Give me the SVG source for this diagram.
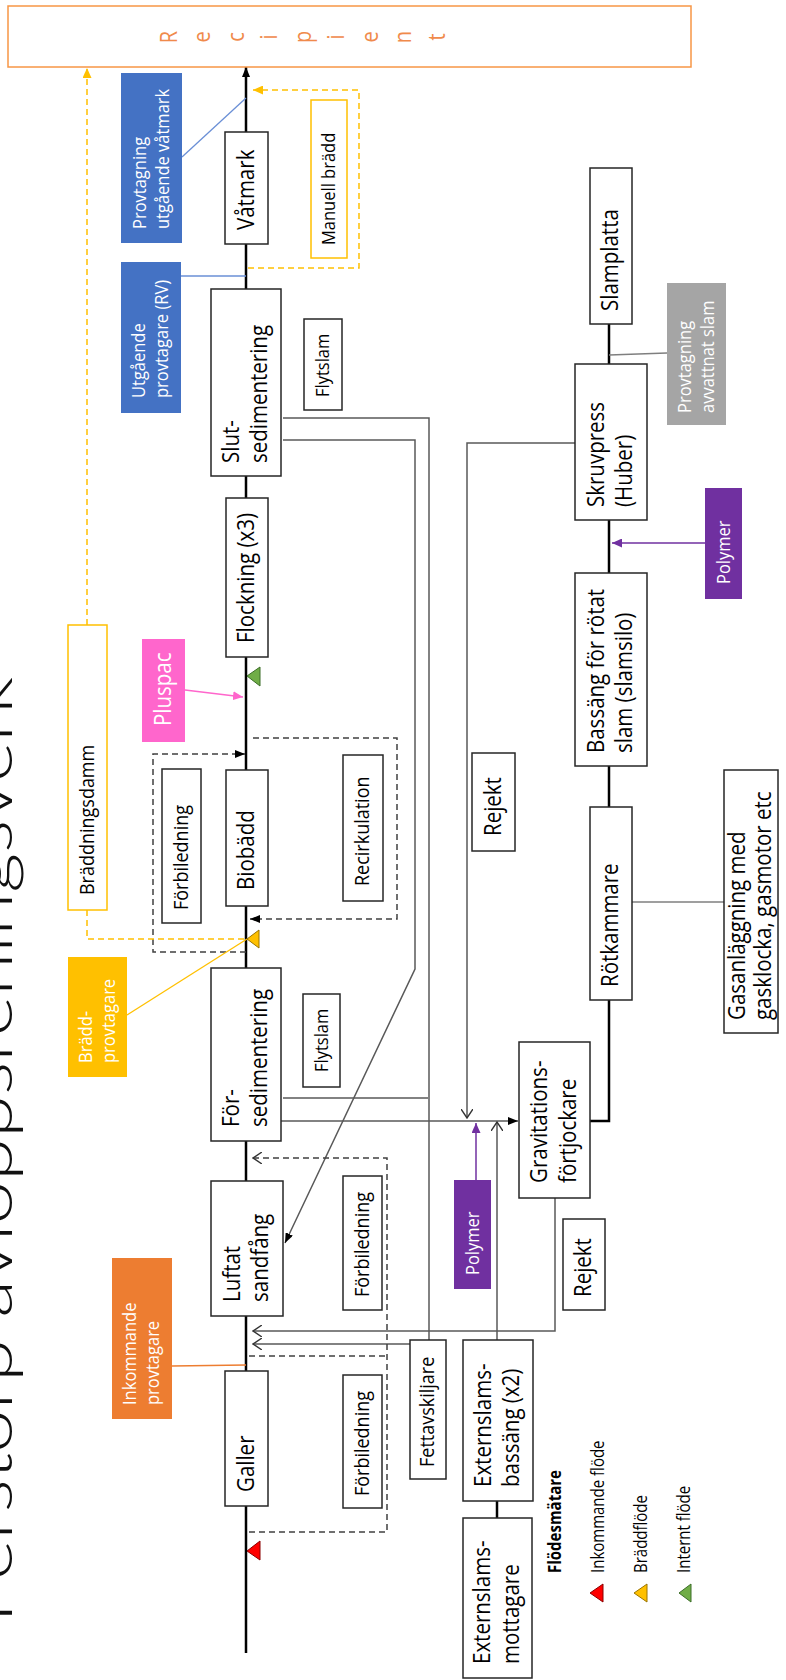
<svg xmlns="http://www.w3.org/2000/svg" width="786" height="1680" viewBox="0 0 786 1680">
<style>
.box{fill:#fff;stroke:#262626;stroke-width:1.5}
.n{font-family:'Open Sans','Liberation Sans',sans-serif;font-size:20.5px;fill:#000}
.s18{font-size:18px}
.s16{font-size:16.5px}
.w{fill:#fff}
.main{stroke:#000;stroke-width:2.5;fill:none}
.thick{stroke:#000;stroke-width:2.5;fill:none}
.gl{stroke:#595959;stroke-width:1.5;fill:none}
.dash{stroke:#404040;stroke-width:1.5;fill:none;stroke-dasharray:6 4}
.ydash{stroke:#FFC000;stroke-width:1.5;fill:none;stroke-dasharray:6 4}
.rec{font-family:'Open Sans','Liberation Sans',sans-serif;font-size:20px;fill:#F08A4B}
.leg{font-family:'Open Sans','Liberation Sans',sans-serif;font-size:15px;fill:#000}
</style>
<defs>
<marker id="mBlk" viewBox="0 0 10 8" refX="10" refY="4" markerWidth="10" markerHeight="8" markerUnits="userSpaceOnUse" orient="auto"><path d="M0,0 L10,4 L0,8 z" fill="#000"/></marker>
<marker id="mOpen" viewBox="0 0 10 12" refX="9" refY="6" markerWidth="10" markerHeight="12" markerUnits="userSpaceOnUse" orient="auto"><path d="M0,0 L9,6 L0,12" fill="none" stroke="#333" stroke-width="1.4"/></marker>
<marker id="mYel" viewBox="0 0 10 9" refX="10" refY="4.5" markerWidth="10" markerHeight="9" markerUnits="userSpaceOnUse" orient="auto"><path d="M0,0 L10,4.5 L0,9 z" fill="#FFC000"/></marker>
<marker id="mPur" viewBox="0 0 10 9" refX="10" refY="4.5" markerWidth="10" markerHeight="9" markerUnits="userSpaceOnUse" orient="auto"><path d="M0,0 L10,4.5 L0,9 z" fill="#7030A0"/></marker>
<marker id="mPink" viewBox="0 0 10 9" refX="10" refY="4.5" markerWidth="10" markerHeight="9" markerUnits="userSpaceOnUse" orient="auto"><path d="M0,0 L10,4.5 L0,9 z" fill="#FF66CC"/></marker>
</defs>
<rect width="786" height="1680" fill="#fff"/>

<g id="title">
<text transform="translate(12,1623) rotate(-90)" font-family="Lato,'Liberation Sans',sans-serif" font-weight="300" font-size="62" fill="#111" textLength="946" lengthAdjust="spacingAndGlyphs">Perstorp avloppsreningsverk</text>
</g>

<g id="connectors">
<line class="main" x1="246" y1="1653" x2="246" y2="67" marker-end="url(#mBlk)"/>
<path class="ydash" d="M87,625 V68" marker-end="url(#mYel)"/>
<path class="ydash" d="M248,268 H359 V90 H253" marker-end="url(#mYel)"/>
<line x1="182" y1="157" x2="246" y2="98" stroke="#6A8FD6" stroke-width="1.3"/>
<line x1="181" y1="276" x2="246" y2="276" stroke="#6A8FD6" stroke-width="1.3"/>
<path class="gl" d="M283,418 H429 V1340"/>
<path class="gl" d="M283,440 H415 V969 L285,1243" marker-end="url(#mBlk)"/>
<path class="gl" d="M283,1098 H428"/>
<path class="gl" d="M281,1121 H518" marker-end="url(#mBlk)"/>
<path class="gl" d="M575,443 H467 V1118" marker-end="url(#mOpen)"/>
<path class="gl" d="M497,1340 V1122" marker-end="url(#mOpen)"/>
<path d="M476,1180 V1123" stroke="#7030A0" stroke-width="1.5" fill="none" marker-end="url(#mPur)"/>
<path class="gl" d="M555,1198 V1331 H253" marker-end="url(#mOpen)"/>
<path class="gl" d="M410,1344 H253" marker-end="url(#mOpen)"/>
<path class="thick" d="M590,1121 H609 V1000"/>
<path class="thick" d="M609,807 V766"/>
<path class="thick" d="M609,573 V520"/>
<path class="thick" d="M609,364 V324"/>
<path class="thick" d="M497,1501 V1518"/>
<line x1="667" y1="353" x2="609" y2="355" stroke="#7f7f7f" stroke-width="1.5"/>
<path d="M705,543 H612" stroke="#7030A0" stroke-width="1.5" fill="none" marker-end="url(#mPur)"/>
<line x1="632" y1="902" x2="724" y2="902" stroke="#7f7f7f" stroke-width="1.5"/>
<path class="dash" d="M246,952 H153 V754 H245" marker-end="url(#mBlk)"/>
<path class="dash" d="M253,738 H397 V919 H250" marker-end="url(#mBlk)"/>
<path class="dash" d="M249,1532 H387 V1158 H253" marker-end="url(#mOpen)"/>
<path class="dash" d="M249,1356 H387"/>
<path class="ydash" d="M87,910 V939 H247"/>
<line x1="127" y1="1015" x2="247" y2="939" stroke="#FFC000" stroke-width="1.3"/>
<path d="M185,690 L243,697" stroke="#FF66CC" stroke-width="1.5" fill="none" marker-end="url(#mPink)"/>
<line x1="172" y1="1366" x2="246" y2="1365" stroke="#ED7D31" stroke-width="1.3"/>
<polygon points="247,676 260,667 260,686" fill="#70AD47" stroke="#3C6E28" stroke-width="1"/>
<polygon points="247,939 259,930 259,948" fill="#FFC000" stroke="#9A7400" stroke-width="1"/>
<polygon points="247,1551 260,1541 260,1560" fill="#FF0000" stroke="#8B0000" stroke-width="1"/>
</g>

<g id="recipient">
<rect x="8" y="6" width="683" height="61" fill="#fff" stroke="#F79646" stroke-width="1.5"/>
<text class="rec" transform="translate(177,37) rotate(-90) scale(1,1.15)" text-anchor="middle">R</text>
<text class="rec" transform="translate(210,37) rotate(-90) scale(1,1.15)" text-anchor="middle">e</text>
<text class="rec" transform="translate(244,37) rotate(-90) scale(1,1.15)" text-anchor="middle">c</text>
<text class="rec" transform="translate(277,37) rotate(-90) scale(1,1.15)" text-anchor="middle">i</text>
<text class="rec" transform="translate(311,37) rotate(-90) scale(1,1.15)" text-anchor="middle">p</text>
<text class="rec" transform="translate(344,37) rotate(-90) scale(1,1.15)" text-anchor="middle">i</text>
<text class="rec" transform="translate(378,37) rotate(-90) scale(1,1.15)" text-anchor="middle">e</text>
<text class="rec" transform="translate(411,37) rotate(-90) scale(1,1.15)" text-anchor="middle">n</text>
<text class="rec" transform="translate(445,37) rotate(-90) scale(1,1.15)" text-anchor="middle">t</text>
</g>

<g id="vatmark"><rect class="box" x="225" y="132" width="43" height="112"/><text class="n" transform="translate(246.5,230) rotate(-90) scale(1,1.15)" y="6.3">Våtmark</text></g>
<g id="manuell-bradd"><rect x="311" y="100" width="36" height="158" fill="#fff" stroke="#FFC000" stroke-width="1.5"/><text class="n s16" transform="translate(329,245) rotate(-90) scale(1,1.15)" y="5.3">Manuell brädd</text></g>
<g id="provtagning-vatmark"><rect x="121" y="73" width="61" height="170" fill="#4472C4"/><text class="n s16 w" transform="translate(151.5,229) rotate(-90) scale(1,1.15)"><tspan x="0" y="-4.8">Provtagning</tspan><tspan x="0" y="15.2">utgående våtmark</tspan></text></g>
<g id="utgaende-provtagare"><rect x="121" y="262" width="60" height="151" fill="#4472C4"/><text class="n s16 w" transform="translate(151,398) rotate(-90) scale(1,1.15)"><tspan x="0" y="-4.8">Utgående</tspan><tspan x="0" y="15.2">provtagare (RV)</tspan></text></g>
<g id="slutsedimentering"><rect class="box" x="211" y="289" width="70" height="187"/><text class="n" transform="translate(246,463) rotate(-90) scale(1,1.15)"><tspan x="0" y="-6.1">Slut-</tspan><tspan x="0" y="18.3">sedimentering</tspan></text></g>
<g id="flytslam-1"><rect class="box" x="304" y="319" width="38" height="91"/><text class="n s16" transform="translate(323,397) rotate(-90) scale(1,1.15)" y="5.3">Flytslam</text></g>
<g id="flockning"><rect class="box" x="226" y="498" width="42" height="159"/><text class="n" transform="translate(247,643) rotate(-90) scale(1,1.15)" y="6.3">Flockning (x3)</text></g>
<g id="pluspac"><rect x="142" y="639" width="43" height="103" fill="#FF66CC"/><text class="n w" transform="translate(163.5,726) rotate(-90) scale(1,1.15)" y="6.3">Pluspac</text></g>
<g id="braddningsdamm"><rect x="68" y="625" width="39" height="285" fill="#fff" stroke="#FFC000" stroke-width="1.5"/><text class="n s18" transform="translate(87.5,895) rotate(-90) scale(1,1.15)" y="5.6">Bräddningsdamm</text></g>
<g id="forbiledning-1"><rect class="box" x="162" y="769" width="39" height="154"/><text class="n s18" transform="translate(181.5,910) rotate(-90) scale(1,1.15)" y="5.6">Förbiledning</text></g>
<g id="biobadd"><rect class="box" x="226" y="770" width="42" height="136"/><text class="n" transform="translate(247,890) rotate(-90) scale(1,1.15)" y="6.3">Biobädd</text></g>
<g id="recirkulation"><rect class="box" x="343" y="755" width="40" height="146"/><text class="n s18" transform="translate(363,886) rotate(-90) scale(1,1.15)" y="5.6">Recirkulation</text></g>
<g id="rejekt-1"><rect class="box" x="472" y="753" width="43" height="98"/><text class="n" transform="translate(493.5,836) rotate(-90) scale(1,1.15)" y="6.3">Rejekt</text></g>
<g id="bradd-provtagare"><rect x="68" y="957" width="59" height="120" fill="#FFC000"/><text class="n s16 w" transform="translate(97.5,1063) rotate(-90) scale(1,1.15)"><tspan x="0" y="-4.8">Brädd-</tspan><tspan x="0" y="15.2">provtagare</tspan></text></g>
<g id="forsedimentering"><rect class="box" x="211" y="968" width="70" height="173"/><text class="n" transform="translate(246,1127) rotate(-90) scale(1,1.15)"><tspan x="0" y="-6.1">För-</tspan><tspan x="0" y="18.3">sedimentering</tspan></text></g>
<g id="flytslam-2"><rect class="box" x="303" y="994" width="37" height="93"/><text class="n s16" transform="translate(321.5,1072) rotate(-90) scale(1,1.15)" y="5.3">Flytslam</text></g>
<g id="luftat-sandfang"><rect class="box" x="211" y="1181" width="72" height="135"/><text class="n" transform="translate(247,1302) rotate(-90) scale(1,1.15)"><tspan x="0" y="-6.1">Luftat</tspan><tspan x="0" y="18.3">sandfång</tspan></text></g>
<g id="forbiledning-2"><rect class="box" x="343" y="1176" width="39" height="134"/><text class="n s18" transform="translate(362.5,1297) rotate(-90) scale(1,1.15)" y="5.6">Förbiledning</text></g>
<g id="inkommande-provtagare"><rect x="112" y="1258" width="60" height="161" fill="#ED7D31"/><text class="n s16 w" transform="translate(142,1405) rotate(-90) scale(1,1.15)"><tspan x="0" y="-4.8">Inkommande</tspan><tspan x="0" y="15.2">provtagare</tspan></text></g>
<g id="galler"><rect class="box" x="225" y="1371" width="43" height="135"/><text class="n" transform="translate(246.5,1492) rotate(-90) scale(1,1.15)" y="6.3">Galler</text></g>
<g id="forbiledning-3"><rect class="box" x="343" y="1375" width="39" height="133"/><text class="n s18" transform="translate(362.5,1496) rotate(-90) scale(1,1.15)" y="5.6">Förbiledning</text></g>
<g id="fettavskiljare"><rect class="box" x="410" y="1340" width="36" height="139"/><text class="n s18" transform="translate(428,1467) rotate(-90) scale(1,1.15)" y="5.6">Fettavskiljare</text></g>
<g id="externslams-bassang"><rect class="box" x="463" y="1340" width="70" height="161"/><text class="n" transform="translate(498,1487) rotate(-90) scale(1,1.15)"><tspan x="0" y="-6.1">Externslams-</tspan><tspan x="0" y="18.3">bassäng (x2)</tspan></text></g>
<g id="externslams-mottagare"><rect class="box" x="463" y="1518" width="69" height="160"/><text class="n" transform="translate(497.5,1664) rotate(-90) scale(1,1.15)"><tspan x="0" y="-6.1">Externslams-</tspan><tspan x="0" y="18.3">mottagare</tspan></text></g>
<g id="polymer-2"><rect x="454" y="1180" width="37" height="109" fill="#7030A0"/><text class="n s16 w" transform="translate(472.5,1275) rotate(-90) scale(1,1.15)" y="5.3">Polymer</text></g>
<g id="gravitationsfortjockare"><rect class="box" x="519" y="1042" width="71" height="156"/><text class="n" transform="translate(554.5,1183) rotate(-90) scale(1,1.15)"><tspan x="0" y="-6.1">Gravitations-</tspan><tspan x="0" y="18.3">förtjockare</tspan></text></g>
<g id="rejekt-2"><rect class="box" x="563" y="1219" width="42" height="91"/><text class="n" transform="translate(584,1297) rotate(-90) scale(1,1.15)" y="6.3">Rejekt</text></g>
<g id="rotkammare"><rect class="box" x="590" y="807" width="42" height="193"/><text class="n" transform="translate(611,987) rotate(-90) scale(1,1.15)" y="6.3">Rötkammare</text></g>
<g id="gasanlaggning"><rect class="box" x="724" y="770" width="54" height="263"/><text class="n" transform="translate(750,1020) rotate(-90) scale(1,1.15)"><tspan x="0" y="-4.3">Gasanläggning med</tspan><tspan x="0" y="18">gasklocka, gasmotor etc</tspan></text></g>
<g id="bassang-rotat-slam"><rect class="box" x="575" y="573" width="72" height="193"/><text class="n" transform="translate(611,753) rotate(-90) scale(1,1.15)"><tspan x="0" y="-6.1">Bassäng för rötat</tspan><tspan x="0" y="18.3">slam (slamsilo)</tspan></text></g>
<g id="polymer-1"><rect x="705" y="488" width="37" height="111" fill="#7030A0"/><text class="n s16 w" transform="translate(723.5,584) rotate(-90) scale(1,1.15)" y="5.3">Polymer</text></g>
<g id="skruvpress"><rect class="box" x="575" y="364" width="72" height="156"/><text class="n" transform="translate(611,507) rotate(-90) scale(1,1.15)"><tspan x="0" y="-6.1">Skruvpress</tspan><tspan x="0" y="18.3">(Huber)</tspan></text></g>
<g id="slamplatta"><rect class="box" x="590" y="168" width="42" height="156"/><text class="n" transform="translate(611,311) rotate(-90) scale(1,1.15)" y="6.3">Slamplatta</text></g>
<g id="provtagning-avvattnat-slam"><rect x="667" y="283" width="59" height="142" fill="#A5A5A5"/><text class="n s16 w" transform="translate(696.5,413) rotate(-90) scale(1,1.15)"><tspan x="0" y="-4.8">Provtagning</tspan><tspan x="0" y="15.2">avvattnat slam</tspan></text></g>

<g id="legend">
<text class="leg" transform="translate(561,1573) rotate(-90) scale(1,1.15)" font-weight="bold" font-size="14">Flödesmätare</text>
<polygon points="590,1593 603,1584 603,1602" fill="#FF0000" stroke="#8B0000" stroke-width="1"/>
<text class="leg" transform="translate(604,1573) rotate(-90) scale(1,1.15)">Inkommande flöde</text>
<polygon points="634,1593 647,1584 647,1602" fill="#FFC000" stroke="#9A7400" stroke-width="1"/>
<text class="leg" transform="translate(647,1573) rotate(-90) scale(1,1.15)">Bräddflöde</text>
<polygon points="679,1593 691,1584 691,1602" fill="#70AD47" stroke="#3C6E28" stroke-width="1"/>
<text class="leg" transform="translate(690,1573) rotate(-90) scale(1,1.15)">Internt flöde</text>
</g>
</svg>
